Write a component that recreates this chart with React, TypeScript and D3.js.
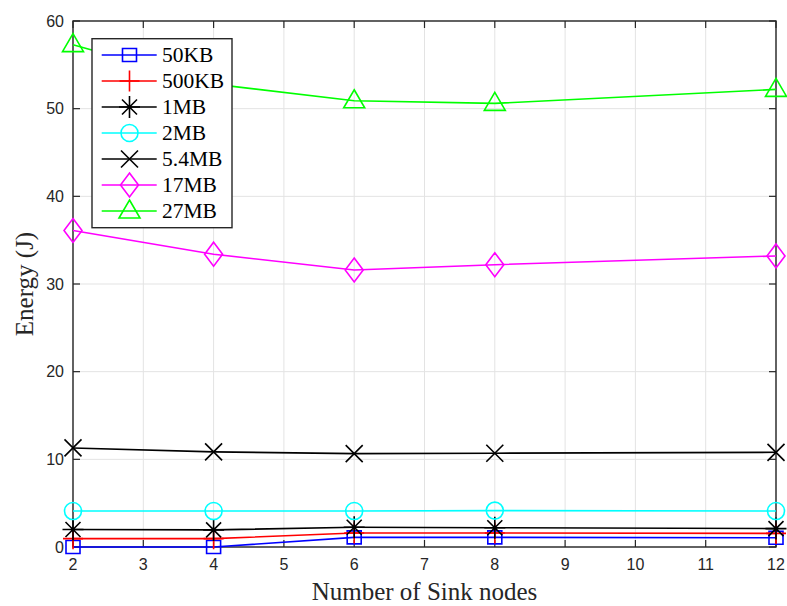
import React from "react";
import * as d3 from "d3";

const xValues = [2, 4, 6, 8, 12];
const seriesNames = ["50KB", "500KB", "1MB", "2MB", "5.4MB", "17MB", "27MB"];
const seriesColors = ["#0000ff", "#ff0000", "#000000", "#00ffff", "#000000", "#ff00ff", "#00ff00"];
const seriesMarkers = ["square", "plus", "star", "circle", "x", "diamond", "triangle"];
const v50KB = [0.0, 0.0, 1.1, 1.1, 1.05];
const v500KB = [0.95, 0.95, 1.6, 1.6, 1.55];
const v1MB = [2.0, 1.95, 2.25, 2.2, 2.1];
const v2MB = [4.1, 4.1, 4.1, 4.15, 4.1];
const v54MB = [11.3, 10.85, 10.65, 10.7, 10.8];
const v17MB = [36.1, 33.4, 31.6, 32.2, 33.2];
const v27MB = [57.3, 52.8, 50.9, 50.6, 52.2];
const seriesValues = [v50KB, v500KB, v1MB, v2MB, v54MB, v17MB, v27MB];
const xTicks = [2, 3, 4, 5, 6, 7, 8, 9, 10, 11, 12];
const yTicks = [0, 10, 20, 30, 40, 50, 60];

const W = 787, H = 606;
const L = 73, R = 776, T = 21, B = 547;
const x = d3.scaleLinear().domain([2, 12]).range([L, R]);
const y = d3.scaleLinear().domain([0, 60]).range([B, T]);

function markerPath(kind: string): string {
  switch (kind) {
    case "square": return "M-7,-6.5H7V6.5H-7Z";
    case "plus": return "M-10,0H10M0,-10.5V10.5";
    case "star": return "M-10.5,0H10.5M0,-11V11M-7.5,-7.5L7.5,7.5M-7.5,7.5L7.5,-7.5";
    case "circle": return "M8.5,0A8.5,8.5 0 1,1 -8.5,0A8.5,8.5 0 1,1 8.5,0Z";
    case "x": return "M-8.5,-8.5L8.5,8.5M-8.5,8.5L8.5,-8.5";
    case "diamond": return "M0,-12L9,0L0,12L-9,0Z";
    case "triangle": return "M0,-11L10.5,7L-10.5,7Z";
    default: return "";
  }
}

export default function App() {
  const line = d3.line<number>().x((_, i) => x(xValues[i])).y((d) => y(d));
  const axisColor = "#262626";
  const legX = 92, legY = 38.7, legW = 140, legH = 189;
  return (
    <svg width={W} height={H} style={{ display: "block", position: "absolute", left: 0, top: 0, background: "#fff" }}>
      <rect x={0} y={0} width={W} height={H} fill="#fff" />
      {xTicks.map((t) => (
        <line key={"gx" + t} x1={x(t)} x2={x(t)} y1={T} y2={B} stroke="#e3e3e3" strokeWidth={1} />
      ))}
      {yTicks.map((t) => (
        <line key={"gy" + t} x1={L} x2={R} y1={y(t)} y2={y(t)} stroke="#e3e3e3" strokeWidth={1} />
      ))}
      {xTicks.map((t) => (
        <g key={"tx" + t}>
          <line x1={x(t)} x2={x(t)} y1={B} y2={B - 7} stroke={axisColor} strokeWidth={1.2} />
          <line x1={x(t)} x2={x(t)} y1={T} y2={T + 7} stroke={axisColor} strokeWidth={1.2} />
          <text x={x(t)} y={570} textAnchor="middle" fontFamily="Liberation Sans, Arial, sans-serif" fontSize={16} fill={axisColor}>{t}</text>
        </g>
      ))}
      {yTicks.map((t) => (
        <g key={"ty" + t}>
          <line x1={L} x2={L + 7} y1={y(t)} y2={y(t)} stroke={axisColor} strokeWidth={1.2} />
          <line x1={R} x2={R - 7} y1={y(t)} y2={y(t)} stroke={axisColor} strokeWidth={1.2} />
          <text x={64} y={y(t)} dy="0.36em" textAnchor="end" fontFamily="Liberation Sans, Arial, sans-serif" fontSize={16} fill={axisColor}>{t}</text>
        </g>
      ))}
      <rect x={L} y={T} width={R - L} height={B - T} fill="none" stroke={axisColor} strokeWidth={1.4} />
      {seriesValues.map((vals, si) => (
        <g key={"s" + si}>
          <path d={line(vals) || ""} fill="none" stroke={seriesColors[si]} strokeWidth={1.6} />
          {vals.map((v, i) => (
            <path key={i} d={markerPath(seriesMarkers[si])} transform={`translate(${x(xValues[i])},${y(v)})`} fill="none" stroke={seriesColors[si]} strokeWidth={1.6} />
          ))}
        </g>
      ))}
      <rect x={legX} y={legY} width={legW} height={legH} fill="#fff" stroke={axisColor} strokeWidth={1.4} />
      {seriesNames.map((name, i) => {
        const ry = 55 + i * 26;
        return (
          <g key={"l" + i}>
            <line x1={101.7} x2={156.7} y1={ry} y2={ry} stroke={seriesColors[i]} strokeWidth={1.6} />
            <path d={markerPath(seriesMarkers[i])} transform={`translate(129.5,${ry})`} fill="none" stroke={seriesColors[i]} strokeWidth={1.6} />
            <text x={162} y={ry + 7.3} fontFamily="Liberation Serif, Times New Roman, serif" fontSize={21.5} fill="#000">{name}</text>
          </g>
        );
      })}
      <text x={(L + R) / 2} y={600} textAnchor="middle" fontFamily="Liberation Serif, Times New Roman, serif" fontSize={25} fill={axisColor}>Number of Sink nodes</text>
      <text transform={`translate(33.3,${(T + B) / 2}) rotate(-90)`} textAnchor="middle" fontFamily="Liberation Serif, Times New Roman, serif" fontSize={25} fill={axisColor}>Energy (J)</text>
    </svg>
  );
}
